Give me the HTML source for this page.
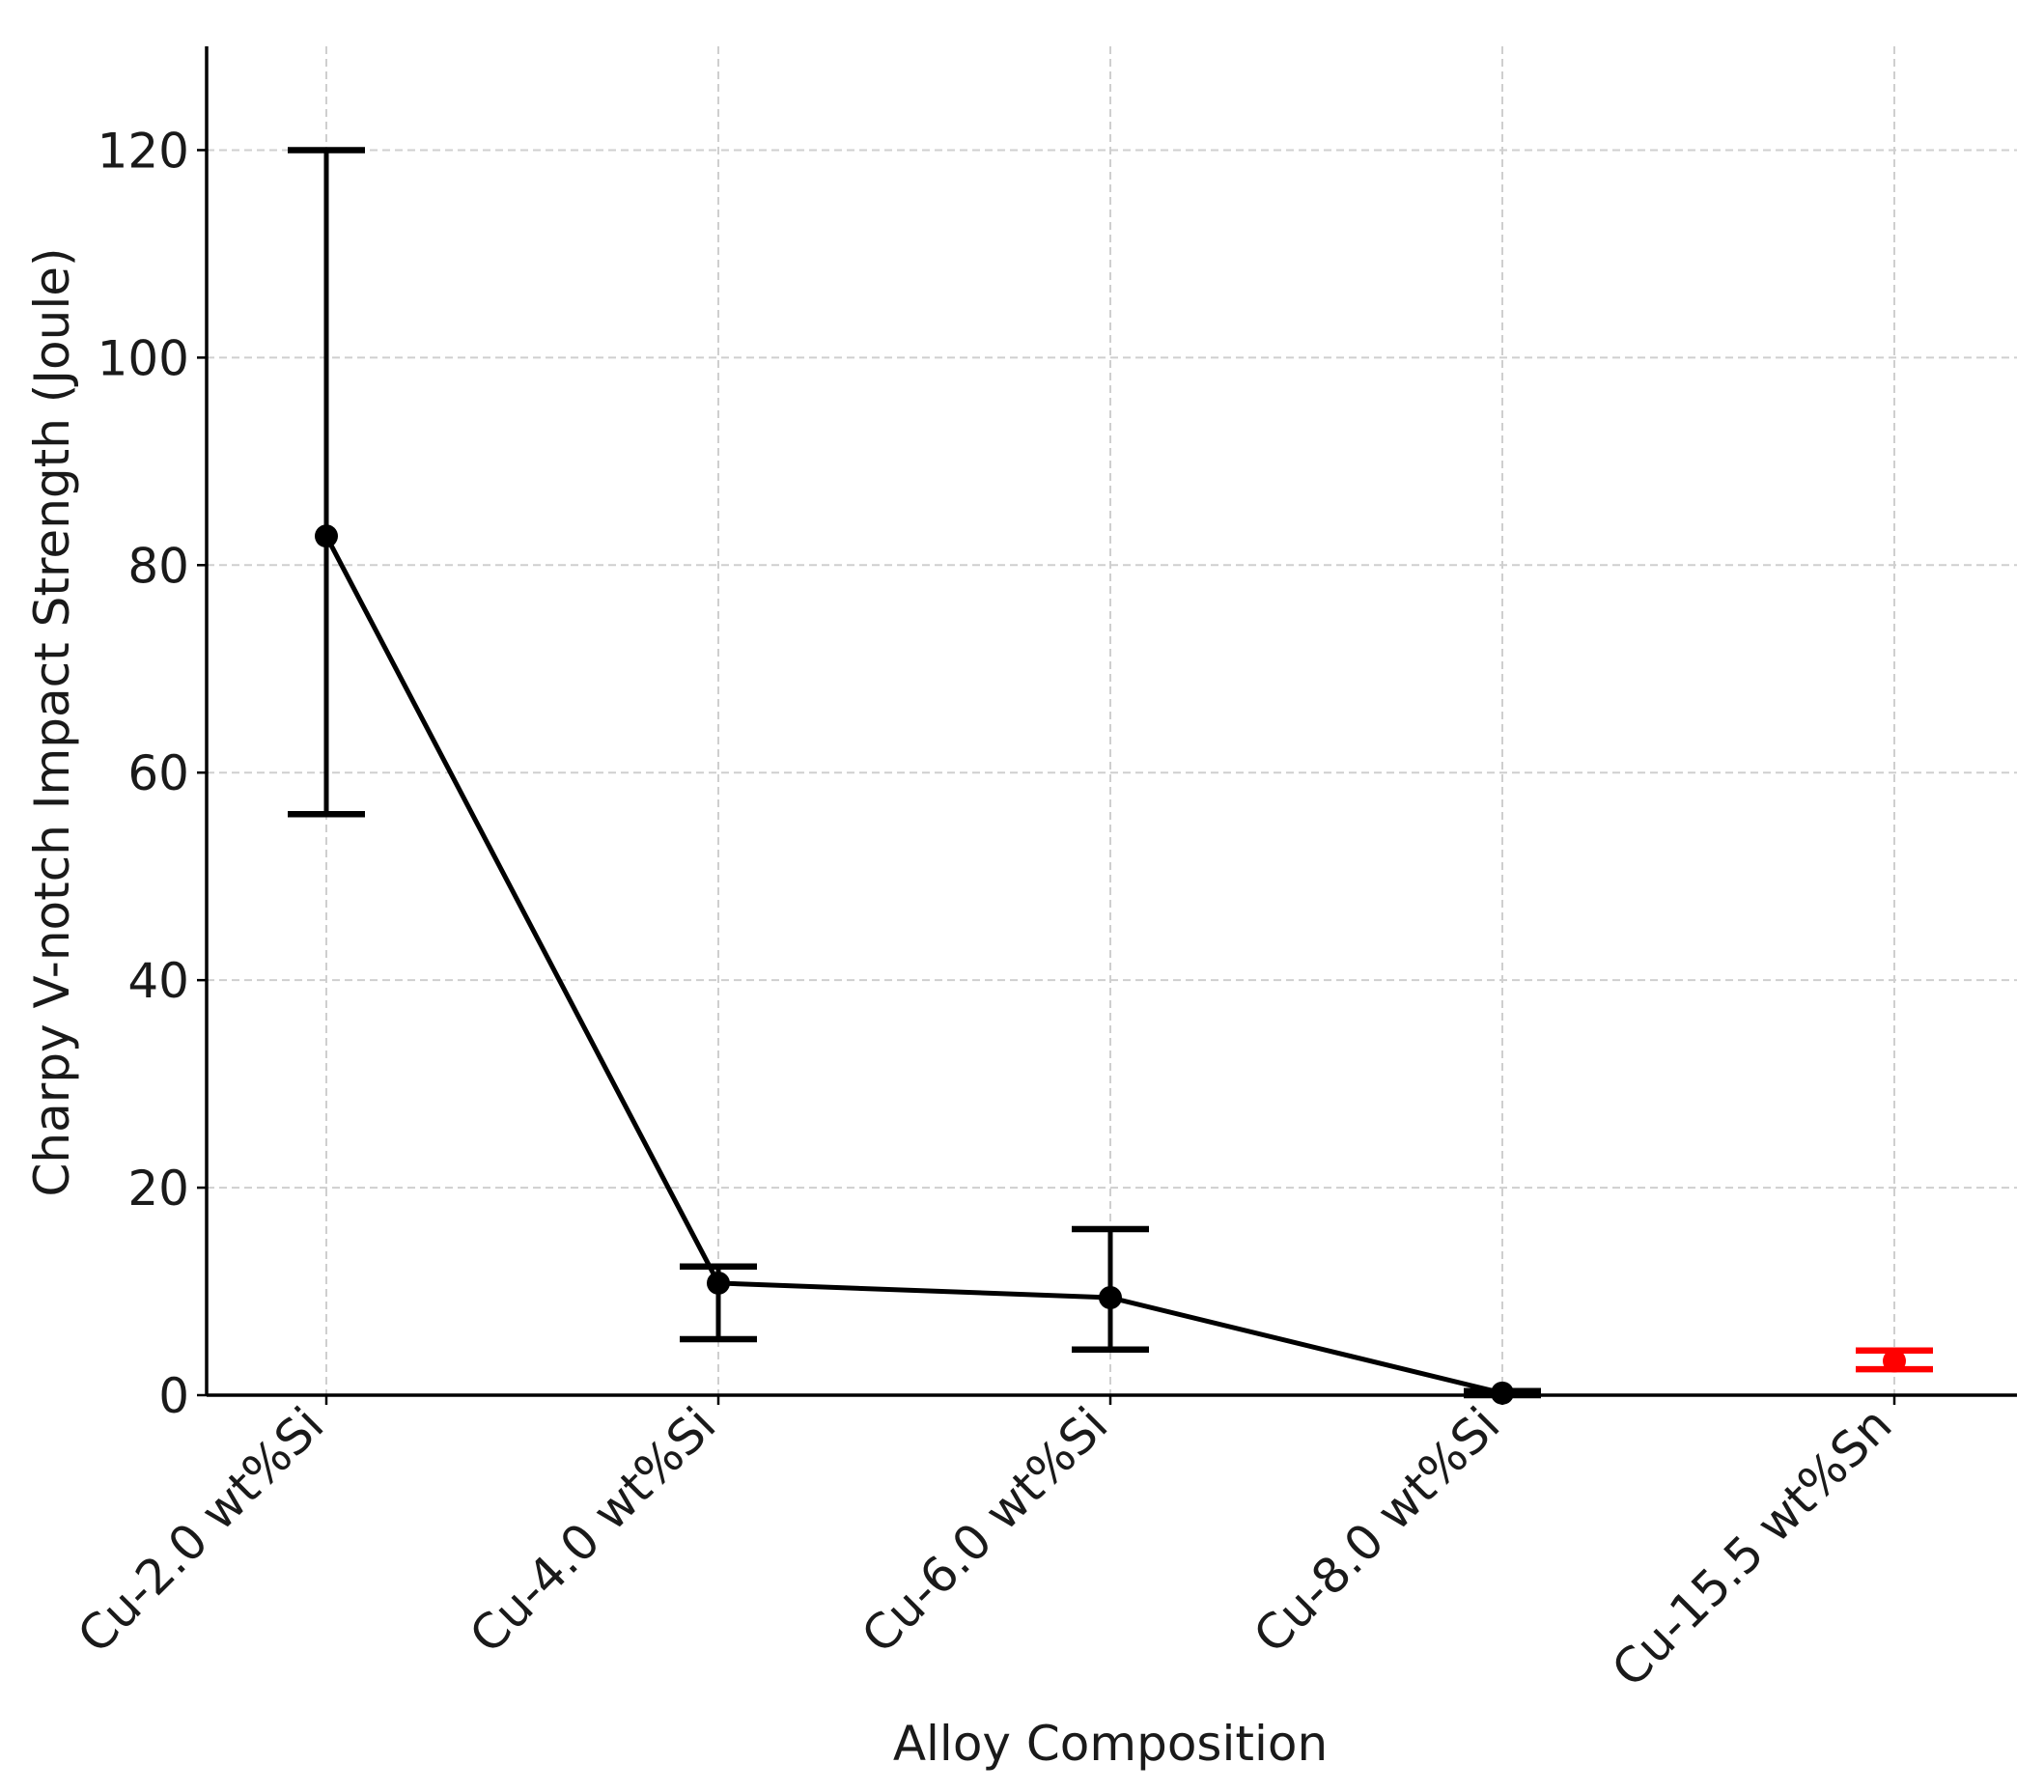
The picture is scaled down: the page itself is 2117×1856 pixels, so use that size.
<!DOCTYPE html>
<html><head><meta charset="utf-8"><style>
html,body{margin:0;padding:0;background:#fff;}
svg text{font-family:"DejaVu Sans","Liberation Sans",sans-serif;fill:#1a1a1a;}
</style></head><body>
<svg id="chart" width="2117" height="1851" viewBox="0 0 2117 1851" xmlns="http://www.w3.org/2000/svg">
<g id="grid"></g>
<g id="axes"></g>
<g id="series"></g>
<text x="1150" y="1823" font-size="50" text-anchor="middle">Alloy Composition</text>
<text transform="translate(71,748) rotate(-90)" font-size="50" text-anchor="middle">Charpy V-notch Impact Strength (Joule)</text>
</svg>
<script>
const categories = ["Cu-2.0 wt%Si","Cu-4.0 wt%Si","Cu-6.0 wt%Si","Cu-8.0 wt%Si","Cu-15.5 wt%Sn"];
const means = [82.8, 10.8, 9.4, 0.2, 3.3];
const lows = [56, 5.4, 4.4, 0, 2.5];
const highs = [120, 12.4, 16, 0.4, 4.3];
const yTicks = [0, 20, 40, 60, 80, 100, 120];

const NS="http://www.w3.org/2000/svg";
const L=214,R=2089,T=48,B=1445, yMin=0,yMax=130;
const xS=i=>338+i*406;
const yS=v=>B-(v-yMin)/(yMax-yMin)*(B-T);
function mk(tag,attrs,parent){const e=document.createElementNS(NS,tag);for(const k in attrs)e.setAttribute(k,attrs[k]);parent.appendChild(e);return e;}
const grid=document.getElementById('grid'),axes=document.getElementById('axes'),series=document.getElementById('series');

yTicks.forEach(t=>{
  const g=mk('line',{x1:L,x2:R,y1:yS(t),y2:yS(t),stroke:'#cfcfcf','stroke-width':2,'stroke-dasharray':'8,5'},grid);
  
  
  const tk=mk('line',{x1:L-10,x2:L,y1:yS(t),y2:yS(t),stroke:'#000','stroke-width':2.5},axes);
  
  
  const tx=mk('text',{x:L-18,y:yS(t)+18,'font-size':50,'text-anchor':'end'},axes);
  tx.textContent=t;
  
  
});
categories.forEach((c,i)=>{
  const g=mk('line',{x1:xS(i),x2:xS(i),y1:T,y2:B,stroke:'#cfcfcf','stroke-width':2,'stroke-dasharray':'8,5'},grid);
  
  
  const tk=mk('line',{x1:xS(i),x2:xS(i),y1:B,y2:B+10,stroke:'#000','stroke-width':2.5},axes);
  
  
  const tx=mk('text',{transform:`translate(${xS(i)},${B+34}) rotate(-45)`,'font-size':50,'text-anchor':'end'},axes);
  tx.textContent=c;
  
  
});
const ya=mk('line',{x1:L,x2:L,y1:T,y2:B,stroke:'#000','stroke-width':3.5},axes);


const xa=mk('line',{x1:L,x2:R,y1:B,y2:B,stroke:'#000','stroke-width':3.5},axes);



const pts=[0,1,2,3].map(i=>xS(i)+','+yS(means[i])).join(' ');
const pl=mk('polyline',{points:pts,fill:'none',stroke:'#000','stroke-width':5},series);



categories.forEach((c,i)=>{
  const col=i===4?'#ff0000':'#000';
  const x=xS(i);
  const eb=mk('line',{x1:x,x2:x,y1:yS(lows[i]),y2:yS(highs[i]),stroke:col,'stroke-width':5},series);
  
  
  [lows[i],highs[i]].forEach(v=>{
    const cap=mk('line',{x1:x-40,x2:x+40,y1:yS(v),y2:yS(v),stroke:col,'stroke-width':6.5},series);
    
    
  });
  const m=mk('circle',{cx:x,cy:yS(means[i]),r:12,fill:col},series);
  
  
});
</script>
</body></html>
